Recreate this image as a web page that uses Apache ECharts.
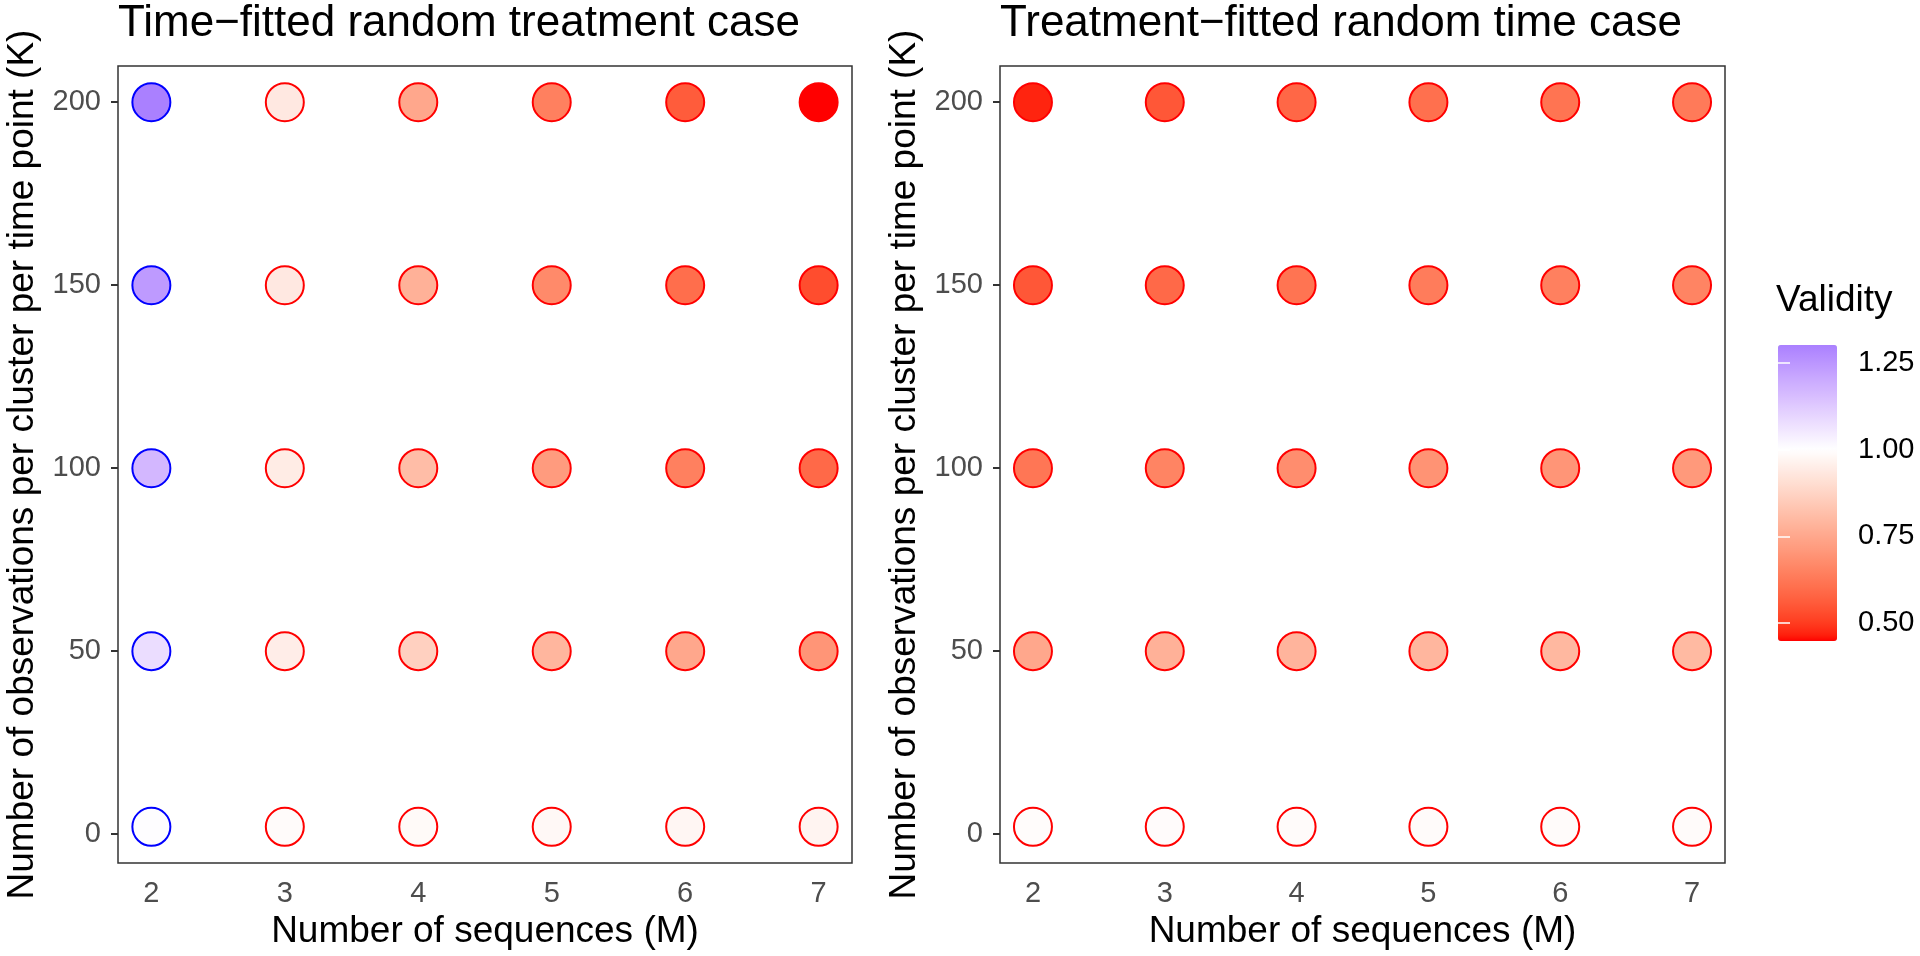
<!DOCTYPE html>
<html>
<head>
<meta charset="utf-8">
<script src="https://cdn.jsdelivr.net/npm/echarts@6/dist/echarts.min.js"></script>
<style>
html,body{margin:0;padding:0;background:#fff;}
#chart{width:1920px;height:956px;}
</style>
</head>
<body>
<div id="chart"></div>
<script>
// ---- data ----
var sequencesM = [2, 3, 4, 5, 6, 7];
var observationsK = [2, 50, 100, 150, 200];
var xTicks = [2, 3, 4, 5, 6, 7];
var yTicks = [0, 50, 100, 150, 200];
var legendTicks = [0.50, 0.75, 1.00, 1.25];
var panelTitles = ['Time\u2212fitted random treatment case', 'Treatment\u2212fitted random time case'];

// validity per K row (K = 2, 50, 100, 150, 200), columns M = 2..7
var timeFittedK2   = [1.005, 0.99, 0.985, 0.98, 0.975, 0.97];
var timeFittedK50  = [1.08, 0.95, 0.865, 0.79, 0.75, 0.70];
var timeFittedK100 = [1.17, 0.945, 0.81, 0.715, 0.645, 0.59];
var timeFittedK150 = [1.24, 0.935, 0.775, 0.67, 0.60, 0.53];
var timeFittedK200 = [1.302, 0.935, 0.75, 0.645, 0.56, 0.448];

var treatFittedK2   = [0.992, 0.991, 0.99, 0.99, 0.989, 0.989];
var treatFittedK50  = [0.75, 0.775, 0.785, 0.79, 0.795, 0.80];
var treatFittedK100 = [0.62, 0.655, 0.68, 0.695, 0.70, 0.71];
var treatFittedK150 = [0.55, 0.59, 0.615, 0.635, 0.645, 0.655];
var treatFittedK200 = [0.47, 0.55, 0.585, 0.605, 0.615, 0.63];

var timeFittedRows = [timeFittedK2, timeFittedK50, timeFittedK100, timeFittedK150, timeFittedK200];
var treatFittedRows = [treatFittedK2, treatFittedK50, treatFittedK100, treatFittedK150, treatFittedK200];

// ---- colour scale (ggplot gradient2 in Lab, low=red, mid=white, high=blue, midpoint=1) ----
function srgb2lin(c){c/=255;return c<=0.04045?c/12.92:Math.pow((c+0.055)/1.055,2.4);}
function lin2srgb(c){c=c<=0.0031308?12.92*c:1.055*Math.pow(c,1/2.4)-0.055;return Math.max(0,Math.min(255,Math.round(c*255)));}
var WX=0.95047,WY=1.0,WZ=1.08883;
function fLab(t){return t>0.008856?Math.cbrt(t):(7.787*t+16/116);}
function fInv(t){var t3=t*t*t;return t3>0.008856?t3:(t-16/116)/7.787;}
function rgb2lab(rgb){
  var r=srgb2lin(rgb[0]),g=srgb2lin(rgb[1]),b=srgb2lin(rgb[2]);
  var X=(0.4124*r+0.3576*g+0.1805*b)/WX,Y=(0.2126*r+0.7152*g+0.0722*b)/WY,Z=(0.0193*r+0.1192*g+0.9505*b)/WZ;
  var fx=fLab(X),fy=fLab(Y),fz=fLab(Z);
  return [116*fy-16,500*(fx-fy),200*(fy-fz)];
}
function lab2rgb(lab){
  var fy=(lab[0]+16)/116,fx=fy+lab[1]/500,fz=fy-lab[2]/200;
  var X=fInv(fx)*WX,Y=fInv(fy)*WY,Z=fInv(fz)*WZ;
  var r=3.2406*X-1.5372*Y-0.4986*Z,g=-0.9689*X+1.8758*Y+0.0415*Z,b=0.0557*X-0.2040*Y+1.0570*Z;
  return 'rgb('+lin2srgb(r)+','+lin2srgb(g)+','+lin2srgb(b)+')';
}
var LOW=rgb2lab([255,0,0]),MID=rgb2lab([255,255,255]),HIGH=rgb2lab([0,0,255]);
function mix(a,b,t){return [a[0]+(b[0]-a[0])*t,a[1]+(b[1]-a[1])*t,a[2]+(b[2]-a[2])*t];}

var allVals=[].concat.apply([],timeFittedRows.concat(treatFittedRows));
var vMin=Math.min.apply(null,allVals),vMax=Math.max.apply(null,allVals);
var midpoint=1;
var dist=Math.max(Math.abs(vMin-midpoint),Math.abs(vMax-midpoint));
function colourFor(v){
  var s=(v-midpoint)/(2*dist)+0.5;
  return s<0.5?lab2rgb(mix(LOW,MID,s/0.5)):lab2rgb(mix(MID,HIGH,(s-0.5)/0.5));
}
var stops=[];var NS=60;
for(var i=0;i<=NS;i++){stops.push(colourFor(vMin+(vMax-vMin)*i/NS));}

function buildData(rows){
  var out=[];
  rows.forEach(function(row,ri){
    row.forEach(function(v,ci){
      out.push({value:[sequencesM[ci],observationsK[ri],v],itemStyle:{borderColor:v>1?'#0000ff':'#ff0000'}});
    });
  });
  return out;
}

var FONT='Liberation Sans, Arial, Helvetica, sans-serif';
var gridTop=66,gridH=797;
var grids=[
  {left:118,top:gridTop,width:734,height:gridH,show:true,borderColor:'#333333',borderWidth:1.5,backgroundColor:'transparent'},
  {left:1000,top:gridTop,width:725,height:gridH,show:true,borderColor:'#333333',borderWidth:1.5,backgroundColor:'transparent'},
  {left:1778,top:345,width:59,height:296,show:false}
];
function xAx(gi){
  return {type:'value',gridIndex:gi,min:1.75,max:7.25,
    name:'Number of sequences (M)',nameLocation:'middle',nameGap:50,
    nameTextStyle:{fontFamily:FONT,fontSize:37,color:'#000'},
    axisLine:{show:false},splitLine:{show:false},
    axisTick:{show:true,length:7,customValues:xTicks,lineStyle:{color:'#333333',width:2}},
    axisLabel:{customValues:xTicks,margin:16,fontFamily:FONT,fontSize:29,color:'#4d4d4d'}};
}
function yAx(gi){
  return {type:'value',gridIndex:gi,min:-7.9,max:209.9,
    name:'Number of observations per cluster per time point (K)',nameLocation:'middle',nameGap:77,
    nameTextStyle:{fontFamily:FONT,fontSize:37,color:'#000'},
    axisLine:{show:false},splitLine:{show:false},
    axisTick:{show:true,length:7,customValues:yTicks,lineStyle:{color:'#333333',width:2}},
    axisLabel:{customValues:yTicks,margin:17,fontFamily:FONT,fontSize:29,color:'#4d4d4d'}};
}

var option={
  backgroundColor:'#ffffff',
  animation:false,
  title:[
    {text:panelTitles[0],left:118,top:2,padding:0,textStyle:{fontFamily:FONT,fontSize:44,fontWeight:'normal',color:'#000'}},
    {text:panelTitles[1],left:1000,top:2,padding:0,textStyle:{fontFamily:FONT,fontSize:44,fontWeight:'normal',color:'#000'}},
    {text:'Validity',left:1776,top:282,padding:0,textStyle:{fontFamily:FONT,fontSize:37,fontWeight:'normal',color:'#000'}}
  ],
  grid:grids,
  xAxis:[xAx(0),xAx(1),{type:'value',gridIndex:2,show:false,min:0,max:1}],
  yAxis:[yAx(0),yAx(1),
    {type:'value',gridIndex:2,min:vMin,max:vMax,position:'right',z:20,
     axisLine:{show:false},splitLine:{show:false},
     axisTick:{show:true,inside:true,length:12,customValues:legendTicks,lineStyle:{color:'#ffffff',width:1.5}},
     axisLabel:{customValues:legendTicks,margin:21,fontFamily:FONT,fontSize:29,color:'#000',
       formatter:function(v){return v.toFixed(2);}}},
    {type:'value',gridIndex:2,min:vMin,max:vMax,position:'left',z:20,
     axisLine:{show:false},splitLine:{show:false},
     axisTick:{show:true,inside:true,length:12,customValues:legendTicks,lineStyle:{color:'#ffffff',width:1.5}},
     axisLabel:{show:false}}
  ],
  visualMap:{type:'continuous',min:vMin,max:vMax,dimension:2,seriesIndex:[0,1],
    left:1778,top:345,itemWidth:59,itemHeight:296,padding:0,calculable:false,
    text:null,showLabel:false,z:1,inRange:{color:stops}},
  series:[
    {type:'scatter',xAxisIndex:0,yAxisIndex:0,symbol:'circle',symbolSize:38,
     itemStyle:{borderWidth:2,opacity:1},data:buildData(timeFittedRows)},
    {type:'scatter',xAxisIndex:1,yAxisIndex:1,symbol:'circle',symbolSize:38,
     itemStyle:{borderWidth:2,opacity:1},data:buildData(treatFittedRows)}
  ]
};
var chart=echarts.init(document.getElementById('chart'),null,{renderer:'canvas'});
chart.setOption(option);
</script>
</body>
</html>
